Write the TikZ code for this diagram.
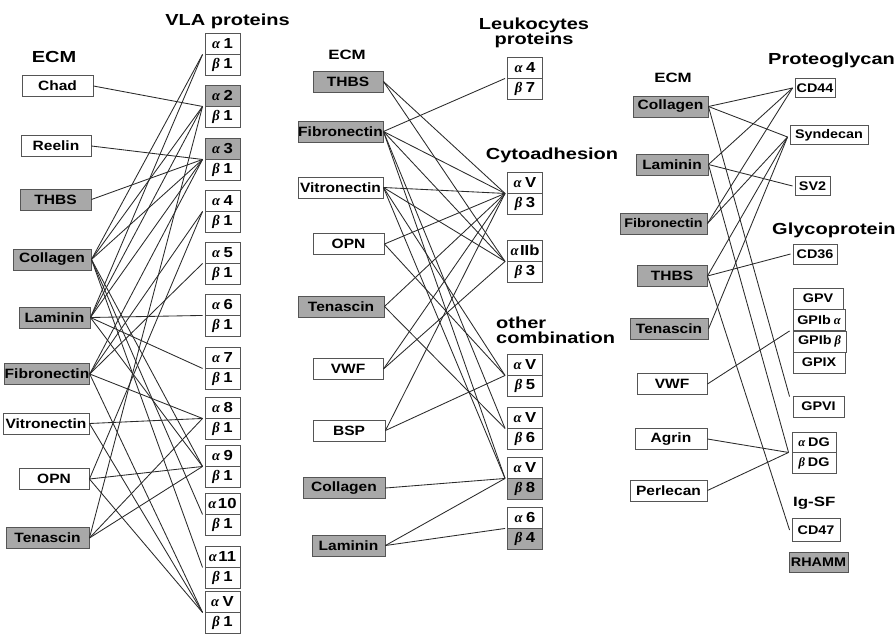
\documentclass[tikz,border=0pt]{standalone}
\usepackage{fontspec}
\usetikzlibrary{calc}
\newfontfamily\lblfam{Liberation Sans}[FakeStretch=1.15]
\newfontfamily\ttlfam{Liberation Sans}[FakeStretch=1.25]
\newfontfamily\grkfam{Liberation Serif}
\newcommand\lblfont{\lblfam\bfseries\fontsize{13.5}{13.5}\selectfont}
\newcommand\rcpfont{\lblfam\bfseries\fontsize{12.5}{12.5}\selectfont}
\newcommand\intgfont{\lblfam\bfseries\fontsize{14.5}{14.5}\selectfont}
\newcommand\ttlfont{\ttlfam\bfseries\fontsize{16}{15}\selectfont}
\newcommand\ttlsmallfont{\ttlfam\bfseries\fontsize{13.5}{13.5}\selectfont}
\newcommand\galpha{{\grkfam\bfseries\itshape α}}
\newcommand\gbeta{{\grkfam\bfseries\itshape β}}
\newcommand\gsp{\hspace{3.5pt}}
\definecolor{boxgray}{HTML}{A8A8A8}
\definecolor{boxline}{HTML}{555555}
\definecolor{linkc}{HTML}{2A2A2A}
% alpha/beta pair: name, x, y of alpha, alpha text, beta text, alpha style, beta style
\newcommand\ipair[7]{%
  \node[ibox,#6] (#1a) at (#2,#3) {#4};
  \node[ibox,#7,anchor=north] (#1b) at (#1a.south) {#5};
  \coordinate (#1) at ($(#1a.south west)+(-2,0)$);}
\begin{document}
\begin{tikzpicture}[x=1pt,y=-1pt,
  box/.style={draw=boxline, line width=0.9pt, fill=white, inner sep=0pt,
              minimum height=21pt, font=\lblfont},
  gbox/.style={box, fill=boxgray},
  ibox/.style={box, minimum width=35pt, font=\intgfont},
  rbox/.style={box, font=\rcpfont, minimum height=19pt},
  link/.style={draw=linkc, line width=0.85pt},
  ttl/.style={inner sep=0pt, font=\ttlfont},
]
\useasboundingbox[fill=white] (0,0) rectangle (896,634);

% ---------------- left panel: ECM and VLA proteins ----------------
\node[ttl] (tL) at (54,57) {ECM};
\node[ttl] (tV) at (227.5,21) {VLA proteins};

\node[box,  minimum width=71pt] (Lchad) at (57.5,86)    {Chad};
\node[box,  minimum width=70pt] (Lreel) at (56,146)     {Reelin};
\node[gbox, minimum width=71pt] (Lthbs) at (55.5,199.5) {THBS};
\node[gbox, minimum width=78pt] (Lcol)  at (52,259.5)   {Collagen};
\node[gbox, minimum width=71pt] (Llam)  at (54.5,317.5) {Laminin};
\node[gbox, minimum width=84pt] (Lfib)  at (47,374)     {Fibronectin};
\node[box,  minimum width=86pt] (Lvit)  at (46,423.5)   {Vitronectin};
\node[box,  minimum width=70pt] (Lopn)  at (54,479)     {OPN};
\node[gbox, minimum width=83pt] (Lten)  at (47.5,538)   {Tenascin};

\ipair{v1}{222.5}{43.5}{\galpha\gsp1}{\gbeta\gsp1}{}{}
\ipair{v2}{222.5}{95.5}{\galpha\gsp2}{\gbeta\gsp1}{fill=boxgray}{}
\ipair{v3}{222.5}{148.5}{\galpha\gsp3}{\gbeta\gsp1}{fill=boxgray}{}
\ipair{v4}{222.5}{200.5}{\galpha\gsp4}{\gbeta\gsp1}{}{}
\ipair{v5}{222.5}{252.5}{\galpha\gsp5}{\gbeta\gsp1}{}{}
\ipair{v6}{222.5}{304.5}{\galpha\gsp6}{\gbeta\gsp1}{}{}
\ipair{v7}{222.5}{357.5}{\galpha\gsp7}{\gbeta\gsp1}{}{}
\ipair{v8}{222.5}{407.5}{\galpha\gsp8}{\gbeta\gsp1}{}{}
\ipair{v9}{222.5}{455.5}{\galpha\gsp9}{\gbeta\gsp1}{}{}
\ipair{v10}{222.5}{503.5}{\galpha\hspace{1.5pt}10}{\gbeta\gsp1}{}{}
\ipair{v11}{222.5}{556.5}{\galpha\hspace{1.5pt}11}{\gbeta\gsp1}{}{}
\ipair{vV}{222.5}{601.5}{\galpha\gsp V}{\gbeta\gsp1}{}{}

\foreach \s/\t in {Lchad/v2, Lreel/v3, Lthbs/v3,
    Lcol/v1, Lcol/v2, Lcol/v3, Lcol/v9, Lcol/v10, Lcol/v11,
    Llam/v1, Llam/v2, Llam/v3, Llam/v6, Llam/v7, Llam/v9,
    Lfib/v3, Lfib/v4, Lfib/v5, Lfib/v8, Lfib/vV,
    Lvit/v8, Lvit/vV,
    Lopn/v4, Lopn/v9, Lopn/vV,
    Lten/v2, Lten/v8, Lten/v9}
  \draw[link] (\s.east) -- (\t);

% ---------------- middle panel: leukocyte, cytoadhesion, others ----------------
\node[ttl, font=\ttlsmallfont] (tM) at (347,55) {ECM};
\node[ttl, align=center] (tLk) at (534,32.5) {Leukocytes\\proteins};
\node[ttl] (tC) at (552,155) {Cytoadhesion};
\node[ttl, align=left, anchor=west] (tO) at (496,330) {other\\combination};

\node[gbox, minimum width=70pt] (Mthbs) at (348,81.5)   {THBS};
\node[gbox, minimum width=85pt] (Mfib)  at (340.5,131.5) {Fibronectin};
\node[box,  minimum width=85pt] (Mvit)  at (340.5,187.5) {Vitronectin};
\node[box,  minimum width=71pt] (Mopn)  at (348.5,244)  {OPN};
\node[gbox, minimum width=86pt] (Mten)  at (341,306.5)  {Tenascin};
\node[box,  minimum width=70pt] (Mvwf)  at (348,369)    {VWF};
\node[box,  minimum width=72pt] (Mbsp)  at (349,430.5)  {BSP};
\node[gbox, minimum width=82pt] (Mcol)  at (344,488)    {Collagen};
\node[gbox, minimum width=73pt] (Mlam)  at (348.5,545.5) {Laminin};

\ipair{l1}{525}{67.5}{\galpha\gsp4}{\gbeta\gsp7}{}{}
\ipair{c1}{525}{182.5}{\galpha\gsp V}{\gbeta\gsp3}{}{}
\ipair{c2}{525}{250.5}{\galpha\hspace{1.5pt}IIb}{\gbeta\gsp3}{}{}
\ipair{o5}{525}{364.5}{\galpha\gsp V}{\gbeta\gsp5}{}{}
\ipair{o6}{525}{417.5}{\galpha\gsp V}{\gbeta\gsp6}{}{}
\ipair{o8}{525}{467.5}{\galpha\gsp V}{\gbeta\gsp8}{}{fill=boxgray}
\ipair{o4}{525}{517.5}{\galpha\gsp6}{\gbeta\gsp4}{}{fill=boxgray}

\foreach \s/\t in {Mthbs/c1, Mthbs/c2,
    Mfib/l1, Mfib/c1, Mfib/c2, Mfib/o6, Mfib/o8,
    Mvit/c1, Mvit/c2, Mvit/o5, Mvit/o8,
    Mopn/c1, Mopn/o5,
    Mten/c1, Mten/o6,
    Mvwf/c1, Mvwf/c2,
    Mbsp/c1, Mbsp/o5,
    Mcol/o8,
    Mlam/o8, Mlam/o4}
  \draw[link] (\s.east) -- (\t);

% ---------------- right panel: non-integrin receptors ----------------
\node[ttl, font=\ttlsmallfont] (tR) at (673,78) {ECM};
\node[ttl, anchor=west] (tP) at (768,60) {Proteoglycan};
\node[ttl, anchor=west] (tG) at (772,230) {Glycoprotein};
\node[ttl, font=\ttlsmallfont, anchor=west] (tI) at (793,503) {Ig-SF};

\node[gbox, minimum width=75pt] (Rcol)  at (670.5,106.5) {Collagen};
\node[gbox, minimum width=72pt] (Rlam)  at (672,164.5)  {Laminin};
\node[gbox, minimum width=87pt, font=\rcpfont] (Rfib) at (663.5,223.5) {Fibronectin};
\node[gbox, minimum width=70pt] (Rthbs) at (672,276)    {THBS};
\node[gbox, minimum width=78pt] (Rten)  at (669,329)    {Tenascin};
\node[box,  minimum width=70pt] (Rvwf)  at (672,384)    {VWF};
\node[box,  minimum width=72pt] (Ragr)  at (671,439)    {Agrin};
\node[box,  minimum width=77pt] (Rper)  at (668.5,490.5) {Perlecan};

\node[rbox, minimum width=40pt] (cd44)  at (815,88)    {CD44};
\node[rbox, minimum width=78pt] (synd)  at (829,135)   {Syndecan};
\node[rbox, minimum width=35pt] (sv2)   at (812.5,186) {SV2};
\node[rbox, minimum width=44pt, minimum height=20pt] (cd36) at (815,254) {CD36};
\node[rbox, minimum width=50pt, minimum height=21pt] (gpv)   at (818,298.5) {GPV};
\node[rbox, minimum width=52pt, minimum height=21pt] (gpiba) at (819,320)   {GPIb\hspace{3pt}\galpha};
\node[rbox, minimum width=53pt, minimum height=21pt] (gpibb) at (819.5,341.5) {GPIb\hspace{3pt}\gbeta};
\node[rbox, minimum width=52pt, minimum height=21pt] (gpix)  at (819,362.5) {GPIX};
\node[rbox, minimum width=51pt, minimum height=21pt] (gpvi)  at (818.5,406.5) {GPVI};
\node[rbox, minimum width=44pt, minimum height=20pt] (adg)   at (814,442)   {\galpha\hspace{3pt}DG};
\node[rbox, minimum width=44pt, minimum height=21pt, anchor=north] (bdg) at (adg.south) {\gbeta\hspace{3pt}DG};
\node[rbox, minimum width=48pt, minimum height=23pt] (cd47)  at (816,530)   {CD47};
\node[rbox, minimum width=59pt, minimum height=20pt, fill=boxgray] (rhamm) at (818.5,562) {RHAMM};

\coordinate (jcd44) at ($(cd44.west)+(-2,0)$);
\coordinate (jsyn)  at ($(synd.west)+(-2,2)$);
\coordinate (jsv2)  at ($(sv2.west)+(-2,0)$);
\coordinate (jcd36) at ($(cd36.west)+(-2,0)$);
\coordinate (jgp)   at ($(gpiba.south west)+(-3,0)$);
\coordinate (jgpvi) at ($(gpvi.north west)+(-3,1)$);
\coordinate (jdg)   at ($(adg.south west)+(-3,0)$);
\coordinate (jcd47) at ($(cd47.west)+(-2,0)$);

\foreach \s/\t in {Rcol/jcd44, Rcol/jsyn, Rcol/jgpvi,
    Rlam/jcd44, Rlam/jsv2, Rlam/jdg,
    Rfib/jcd44, Rfib/jsyn,
    Rthbs/jsyn, Rthbs/jcd36, Rthbs/jcd47,
    Rten/jsyn,
    Rvwf/jgp,
    Ragr/jdg, Rper/jdg}
  \draw[link] (\s.east) -- (\t);
\end{tikzpicture}
\end{document}
